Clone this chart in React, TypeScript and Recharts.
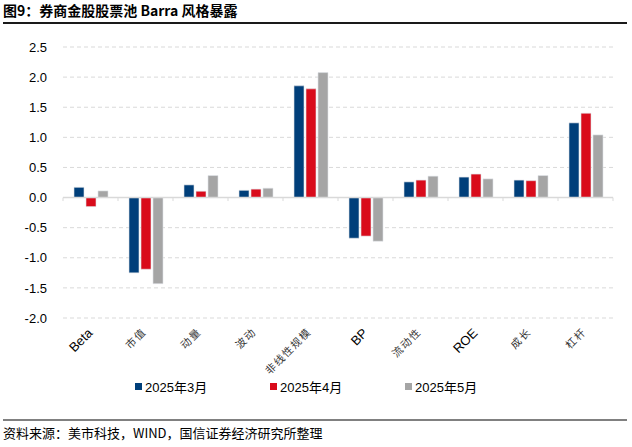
import React from 'react';
import { BarChart, Bar, XAxis, YAxis, CartesianGrid, Legend, ReferenceLine } from 'recharts';

const categories = ['Beta', '市值', '动量', '波动', '非线性规模', 'BP', '流动性', 'ROE', '成长', '杠杆'];
const mar = [0.17, -1.25, 0.21, 0.12, 1.855, -0.675, 0.26, 0.34, 0.29, 1.24];
const apr = [-0.15, -1.19, 0.105, 0.14, 1.805, -0.64, 0.29, 0.39, 0.28, 1.4];
const may = [0.11, -1.43, 0.365, 0.155, 2.075, -0.725, 0.355, 0.31, 0.365, 1.04];
const seriesNames = ['2025年3月', '2025年4月', '2025年5月'];
const seriesKeys = ['mar', 'apr', 'may'];
const seriesColors = ['#003f7a', '#d90b1b', '#a5a5a5'];
const yTicks = [2.5, 2.0, 1.5, 1.0, 0.5, 0.0, -0.5, -1.0, -1.5, -2.0];

const data = categories.map((c, i) => ({ name: c, mar: mar[i], apr: apr[i], may: may[i] }));

const LATIN = "'Liberation Sans', Arial, 'Noto Sans CJK SC', sans-serif";
const CJK = "'Noto Sans CJK SC', sans-serif";

const XTick = (props: any) => {
  const { x, y, payload } = props;
  const v: string = payload.value;
  const latin = /^[A-Za-z]+$/.test(v);
  return (
    <g transform={`translate(${x - 4},${y + 1})`}>
      <text
        transform="rotate(-45)"
        textAnchor="end"
        dy="0.75em"
        fontSize={latin ? 13 : 10.5}
        fontFamily={latin ? LATIN : CJK}
        fill={latin ? '#000' : '#333'}
        letterSpacing={latin ? 0 : 1.5}
      >
        {v}
      </text>
    </g>
  );
};

const ZeroLine = (props: any) => {
  const { x1, y1, x2 } = props;
  const n = categories.length;
  const step = (x2 - x1) / n;
  const ticks = [];
  for (let i = 0; i <= n; i++) {
    const tx = x1 + step * i;
    ticks.push(<line key={i} x1={tx} x2={tx} y1={y1} y2={y1 + 3.5} stroke="#d9d9d9" strokeWidth={1} />);
  }
  return (
    <g>
      <line x1={x1} x2={x2} y1={y1} y2={y1} stroke="#d9d9d9" strokeWidth={1.5} />
      {ticks}
    </g>
  );
};

const LegendContent = () => (
  <div style={{ display: 'flex', paddingLeft: 135, height: 20, alignItems: 'center' }}>
    {seriesNames.map((n, i) => (
      <div key={n} style={{ width: 135, display: 'flex', alignItems: 'center' }}>
        <span style={{ width: 7, height: 7, background: seriesColors[i], display: 'inline-block', marginRight: 3 }} />
        <span style={{ fontSize: 13, fontFamily: LATIN, color: '#000' }}>{n}</span>
      </div>
    ))}
  </div>
);

export default function App() {
  return (
    <div style={{ position: 'absolute', left: 0, top: 0, width: 632, height: 447, background: '#fff' }}>
      <div style={{ position: 'absolute', left: 3, top: 3, fontSize: 14, lineHeight: '14px', fontWeight: 'bold', fontFamily: CJK, color: '#000', whiteSpace: 'nowrap' }}>
        图9：券商金股股票池 Barra 风格暴露
      </div>
      <div style={{ position: 'absolute', left: 3, top: 22, width: 624, height: 2, background: '#1a1a1a' }} />
      <div style={{ position: 'absolute', left: 0, top: 0 }}>
        <BarChart
          width={632}
          height={447}
          data={data}
          margin={{ top: 47, right: 19, left: 0, bottom: 51 }}
          barSize={10}
          barGap={2}
        >
          <CartesianGrid vertical={false} stroke="#d9d9d9" strokeDasharray="4 3" />
          <XAxis
            dataKey="name"
            height={58}
            axisLine={false}
            tickLine={false}
            interval={0}
            tick={<XTick />}
          />
          <YAxis
            width={63}
            domain={[-2, 2.5]}
            ticks={yTicks}
            axisLine={false}
            tickLine={false}
            tickMargin={10}
            tickFormatter={(v: number) => v.toFixed(1)}
            tick={{ fontSize: 13, fill: '#000', fontFamily: LATIN }}
          />
          <ReferenceLine y={0} shape={<ZeroLine />} />
          {seriesKeys.map((k, i) => (
            <Bar key={k} dataKey={k} name={seriesNames[i]} fill={seriesColors[i]} stroke="#dfe3e8" strokeWidth={0.6} isAnimationActive={false} />
          ))}
          <Legend verticalAlign="bottom" height={20} content={<LegendContent />} />
        </BarChart>
      </div>
      <div style={{ position: 'absolute', left: 3, top: 419, width: 624, height: 2, background: '#808080' }} />
      <div style={{ position: 'absolute', left: 3, top: 426, fontSize: 13, lineHeight: '14px', fontFamily: CJK, color: '#000', whiteSpace: 'nowrap' }}>
        资料来源：美市科技，WIND，国信证券经济研究所整理
      </div>
    </div>
  );
}
